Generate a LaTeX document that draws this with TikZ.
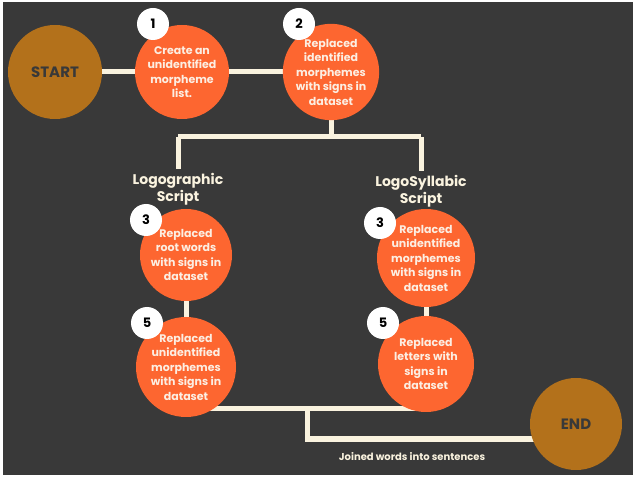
\documentclass[tikz,border=0pt]{standalone}
\usepackage{fontspec}
\setmainfont{Poppins}
\usetikzlibrary{calc}
\definecolor{bgdark}{HTML}{393939}
\definecolor{stepfill}{HTML}{FD6630}
\definecolor{termfill}{HTML}{B3711B}
\definecolor{wire}{HTML}{FAF3DF}
\definecolor{stepink}{HTML}{FCEEE2}
\pgfdeclarelayer{bg}
\pgfsetlayers{bg,main}
\tikzset{
	stepnode/.style={circle, fill=stepfill, inner sep=0pt, minimum size=#1, align=center, text=stepink, font=\fontsize{11}{14.5}\selectfont\bfseries},
	termnode/.style={circle, fill=termfill, inner sep=0pt, minimum size=#1, text=bgdark, font=\fontsize{15}{16}\selectfont\bfseries},
	badge/.style={circle, fill=white, inner sep=0pt, minimum size=32pt, text=black, font=\fontsize{13}{13}\selectfont\bfseries},
	wireline/.style={draw=wire, line width=5pt},
	scriptlabel/.style={align=center, text=wire, font=\fontsize{14}{17}\selectfont\bfseries},
}

\begin{document}
\begin{tikzpicture}[x=1pt,y=-1pt]
			\useasboundingbox (0,0) rectangle (635,478);
			% top row
			\node[termnode=94pt] (start) at (55,72) {START};
			\node[stepnode=94pt] (s1) at (182,72) {Create an\\unidentified\\morpheme\\list.};
			\node[stepnode=92pt] (s2) at (331,72) {Replaced\\identified\\morphemes\\with signs in\\dataset};
			\node[badge] (b1) at (153,24) {1};
			\node[badge] (b2) at (299,24) {2};
			% two branches
			\node[scriptlabel] (logo) at (178,189) {Logographic\\Script};
			\node[scriptlabel] (syll) at (421,191) {LogoSyllabic\\Script};
			\node[stepnode=92pt] (l3) at (186,255) {Replaced\\root words\\with signs in\\dataset};
			\node[stepnode=98pt] (r3) at (426,258) {Replaced\\unidentified\\morphemes\\with signs in\\dataset};
			\node[stepnode=100pt] (l5) at (186,367) {Replaced\\unidentified\\morphemes\\with signs in\\dataset};
			\node[stepnode=96pt] (r5) at (426,364) {Replaced\\letters with\\signs in\\dataset};
			\node[badge] (b3l) at (146,220) {3};
			\node[badge] (b3r) at (380,223) {3};
			\node[badge] (b5l) at (147,323) {5};
			\node[badge] (b5r) at (383,323) {5};
			% end
			\node[termnode=92pt] (finish) at (576,424) {END};
			\node[text=wire, font=\fontsize{10}{11}\selectfont\bfseries] (joined) at (412,457) {Joined words into sentences};
			\coordinate (forkL) at (178,137);
			\coordinate (forkR) at (421,137);
			\coordinate (mergeL) at (186,409);
			\coordinate (mergeR) at (426,409);
			\coordinate (drop) at (307,409);
			\coordinate (dropEnd) at (307,439);
			\begin{pgfonlayer}{bg}
				\fill[white] (0,0) rectangle (635,478);
				\fill[bgdark] (3,2) rectangle (633,475);
				\draw[wireline] (start) -- (s1);
				\draw[wireline] (s1) -- (s2);
				\draw[wireline] (s2) -- (s2 |- forkL);
				\draw[wireline] (forkL) -- (forkR);
				\draw[wireline] (forkL) -- (logo);
				\draw[wireline] (forkR) -- (syll);
				\draw[wireline] (l3) -- (l5);
				\draw[wireline] (r3) -- (r5);
				\draw[wireline] (mergeL) -- (mergeR);
				\draw[wireline] (drop) -- (dropEnd) -- (dropEnd -| finish);
			\end{pgfonlayer}
\end{tikzpicture}
\end{document}
